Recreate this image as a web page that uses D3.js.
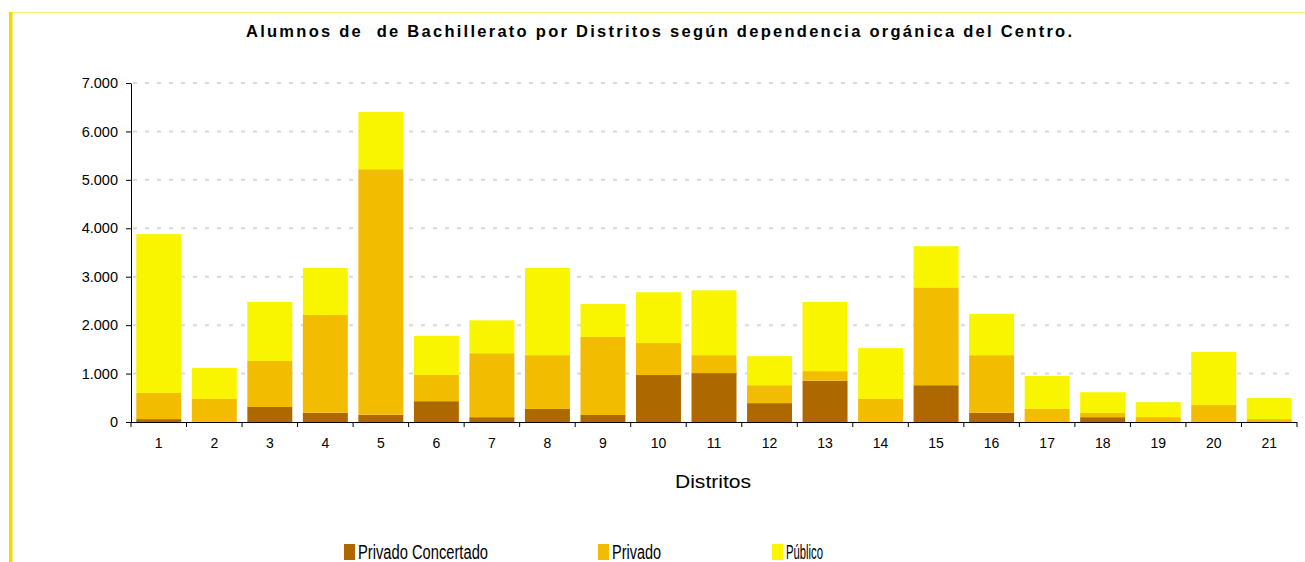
<!DOCTYPE html>
<html><head><meta charset="utf-8">
<script src="https://cdn.jsdelivr.net/npm/d3@7"></script>
<style>body{margin:0;background:#fff}svg{display:block}text{font-family:"Liberation Sans",Arial,sans-serif}</style>
</head><body>
<svg id="c" width="1305" height="562"></svg>
<script>
const districts = ["1","2","3","4","5","6","7","8","9","10","11","12","13","14","15","16","17","18","19","20","21"];
const privadoConcertado = [60,0,310,190,150,430,100,270,145,970,1010,390,850,0,760,190,0,100,0,0,0];
const privado = [540,475,950,2020,5070,540,1320,1110,1610,660,370,370,200,475,2020,1190,270,85,100,350,60];
const publico = [3280,640,1220,970,1180,810,680,1800,680,1050,1340,600,1430,1050,850,850,680,430,310,1095,435];
const seriesNames = ["Privado Concertado","Privado","Público"];
const colors = ["#AE6800","#F2BC00","#F9F500"];
const yTicks = [0,1000,2000,3000,4000,5000,6000,7000];
const title = "Alumnos de  de Bachillerato por Distritos según dependencia orgánica del Centro.";

const svg = d3.select("#c");
// frame
svg.append("line").attr("x1",12).attr("x2",1305).attr("y1",12.5).attr("y2",12.5).attr("stroke","#F7EB86").attr("stroke-width",1);
svg.append("rect").attr("x",9).attr("y",12).attr("width",3.5).attr("height",550).attr("fill","#F6D800");

const L=131,R=1297,T=83,B=422;
const x = d3.scaleBand().domain(districts).range([L,R]).paddingInner(0.19).paddingOuter(0.095);
const y = d3.scaleLinear().domain([0,7000]).range([B,T]);
const fmt = v => d3.format(",")(v).replace(/,/g,".");

// gridlines
svg.append("g").selectAll("line").data(yTicks.filter(d=>d>0)).join("line")
  .attr("x1",L+2).attr("x2",R).attr("y1",d=>y(d)).attr("y2",d=>y(d))
  .attr("stroke","#D9D9D9").attr("stroke-width",2).attr("stroke-dasharray","4,8");

// stacked data
const rows = districts.map((d,i)=>({d, "Privado Concertado":privadoConcertado[i], "Privado":privado[i], "Público":publico[i]}));
const stack = d3.stack().keys(seriesNames)(rows);
svg.append("g").selectAll("g").data(stack).join("g").attr("fill",(s,i)=>colors[i])
  .selectAll("rect").data(s=>s).join("rect")
  .attr("x",d=>x(d.data.d)).attr("width",x.bandwidth())
  .attr("y",d=>y(d[1])).attr("height",d=>y(d[0])-y(d[1]));

// y axis
const ya = svg.append("g").attr("transform",`translate(${L},0)`)
  .call(d3.axisLeft(y).tickValues(yTicks).tickFormat(fmt).tickSize(5).tickSizeOuter(0));
ya.select(".domain").attr("stroke","#000");
ya.selectAll("text").attr("font-size",14.5).attr("fill","#000").attr("font-family","Liberation Sans, Arial").attr("x",-13);

// x axis
const xa = svg.append("g").attr("transform",`translate(0,${B})`);
xa.append("line").attr("x1",L).attr("x2",R).attr("y1",0.5).attr("y2",0.5).attr("stroke","#000");
const bounds = d3.range(districts.length+1).map(i=>L+i*(R-L)/districts.length);
xa.selectAll("line.t").data(bounds).join("line").attr("class","t")
  .attr("x1",d=>d).attr("x2",d=>d).attr("y1",0).attr("y2",5).attr("stroke","#000");
xa.selectAll("text").data(districts).join("text")
  .attr("x",d=>x(d)+x.bandwidth()/2).attr("y",26).attr("text-anchor","middle")
  .attr("font-size",14).text(d=>d);

// titles
svg.append("text").attr("x",246).attr("y",37).style("white-space","pre")
  .attr("font-size",16.5).attr("font-weight","bold")
  .attr("textLength",826).attr("lengthAdjust","spacing").text(title);
svg.append("text").attr("x",675).attr("y",488)
  .attr("font-size",19).attr("textLength",76).attr("lengthAdjust","spacingAndGlyphs").text("Distritos");

// legend
const legX = [344,598,772];
const legW = [130,49,37];
const lg = svg.append("g").selectAll("g").data(seriesNames).join("g")
  .attr("transform",(d,i)=>`translate(${legX[i]},544)`);
lg.append("rect").attr("width",11).attr("height",16).attr("fill",(d,i)=>colors[i]);
lg.append("text").attr("x",14).attr("y",15).attr("font-size",20)
  .attr("textLength",(d,i)=>legW[i]).attr("lengthAdjust","spacingAndGlyphs").text(d=>d);
</script>
</body></html>
